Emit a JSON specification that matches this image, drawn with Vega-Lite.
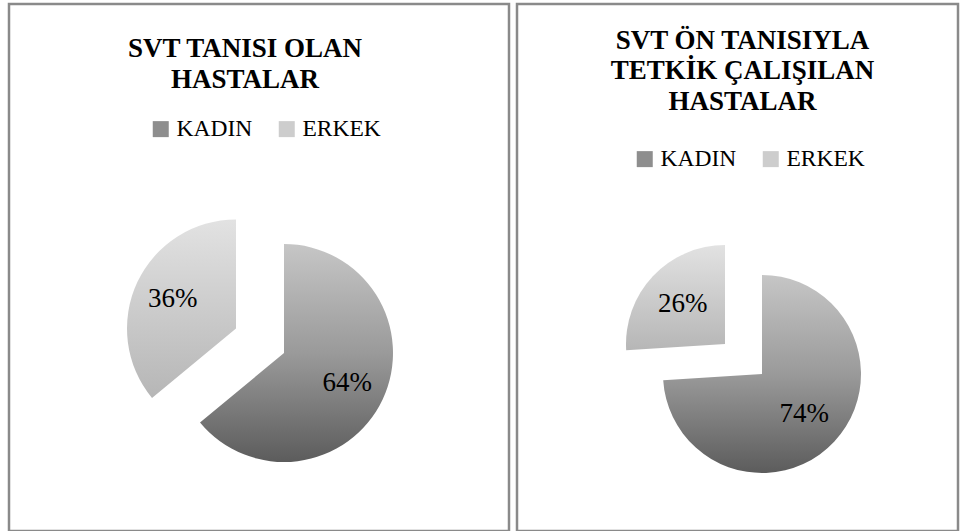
{
  "$schema": "https://vega.github.io/schema/vega-lite/v6.json",
  "background": "white",
  "padding": {"left": 7, "top": 2, "right": 2, "bottom": 2},
  "spacing": 4,
  "config": {
    "view": {"stroke": "#8a8a8a", "strokeWidth": 2.5},
    "legend": {
      "orient": "none",
      "direction": "horizontal",
      "title": null,
      "padding": 0,
      "symbolType": "square",
      "symbolSize": 256,
      "symbolStrokeWidth": 0,
      "labelFont": "Liberation Serif",
      "labelFontSize": 23.5,
      "labelColor": "black",
      "labelOffset": 4,
      "columnPadding": 22
    },
    "title": {
      "font": "Liberation Serif",
      "fontSize": 27,
      "fontWeight": "bold",
      "color": "black",
      "lineHeight": 30.5,
      "anchor": "middle",
      "frame": "group",
      "baseline": "alphabetic"
    }
  },
  "resolve": {
    "scale": {"color": "independent", "theta": "independent"},
    "legend": {"color": "independent"}
  },
  "hconcat": [
    {
      "width": 500,
      "height": 527,
      "view": {"stroke": "#8a8a8a", "strokeWidth": 2.5},
      "title": {"text": ["SVT TANISI OLAN", "HASTALAR"], "offset": -89.5, "dx": -14},
      "data": {"values": [
        {"cinsiyet": "KADIN", "oran": 0.64},
        {"cinsiyet": "ERKEK", "oran": 0.36}
      ]},
      "encoding": {
        "theta": {"field": "oran", "type": "quantitative", "stack": true},
        "order": {"field": "cinsiyet", "sort": "descending"},
        "detail": {"field": "cinsiyet"}
      },
      "layer": [
        {
          "mark": {"type": "arc", "outerRadius": 0, "strokeWidth": 0},
          "encoding": {
            "color": {
              "field": "cinsiyet", "type": "nominal",
              "scale": {"domain": ["KADIN", "ERKEK"], "range": ["#8e8e8e", "#cdcdcd"]},
              "legend": {"legendX": 140, "legendY": 113}
            }
          }
        },
        {
          "mark": {"type": "arc", "outerRadius": 109, "xOffset": 25, "yOffset": 85.5, "strokeWidth": 0,
            "fill": {"gradient": "linear", "x1": 0, "y1": 0, "x2": 0, "y2": 1, "stops": [{"offset": 0, "color": "#c6c6c6"}, {"offset": 0.5, "color": "#9a9a9a"}, {"offset": 1, "color": "#5c5c5c"}]}},
          "encoding": {
            "opacity": {"condition": {"test": "datum.cinsiyet === 'KADIN'", "value": 1}, "value": 0}
          }
        },
        {
          "mark": {"type": "arc", "outerRadius": 109, "xOffset": -23, "yOffset": 61, "strokeWidth": 0,
            "fill": {"gradient": "linear", "x1": 0, "y1": 0, "x2": 0, "y2": 1, "stops": [{"offset": 0, "color": "#e2e2e2"}, {"offset": 1, "color": "#b6b6b6"}]}},
          "encoding": {
            "opacity": {"condition": {"test": "datum.cinsiyet === 'ERKEK'", "value": 1}, "value": 0}
          }
        },
        {
          "mark": {"type": "text", "radius": 70, "xOffset": 25, "yOffset": 85.5, "font": "Liberation Serif", "fontSize": 27, "color": "black"},
          "encoding": {
            "text": {"field": "oran", "type": "quantitative", "format": ".0%"},
            "opacity": {"condition": {"test": "datum.cinsiyet === 'KADIN'", "value": 1}, "value": 0}
          }
        },
        {
          "mark": {"type": "text", "radius": 70, "xOffset": -23, "yOffset": 61, "font": "Liberation Serif", "fontSize": 27, "color": "black"},
          "encoding": {
            "text": {"field": "oran", "type": "quantitative", "format": ".0%"},
            "opacity": {"condition": {"test": "datum.cinsiyet === 'ERKEK'", "value": 1}, "value": 0}
          }
        }
      ]
    },
    {
      "width": 441,
      "height": 527,
      "view": {"stroke": "#8a8a8a", "strokeWidth": 2.5},
      "title": {"text": ["SVT ÖN TANISIYLA", "TETKİK ÇALIŞILAN", "HASTALAR"], "offset": -111.5, "dx": 5},
      "data": {"values": [
        {"cinsiyet": "KADIN", "oran": 0.74},
        {"cinsiyet": "ERKEK", "oran": 0.26}
      ]},
      "encoding": {
        "theta": {"field": "oran", "type": "quantitative", "stack": true},
        "order": {"field": "cinsiyet", "sort": "descending"},
        "detail": {"field": "cinsiyet"}
      },
      "layer": [
        {
          "mark": {"type": "arc", "outerRadius": 0, "strokeWidth": 0},
          "encoding": {
            "color": {
              "field": "cinsiyet", "type": "nominal",
              "scale": {"domain": ["KADIN", "ERKEK"], "range": ["#8e8e8e", "#cdcdcd"]},
              "legend": {"legendX": 116, "legendY": 143}
            }
          }
        },
        {
          "mark": {"type": "arc", "outerRadius": 99, "xOffset": 24.5, "yOffset": 106.5, "strokeWidth": 0,
            "fill": {"gradient": "linear", "x1": 0, "y1": 0, "x2": 0, "y2": 1, "stops": [{"offset": 0, "color": "#c6c6c6"}, {"offset": 0.5, "color": "#9a9a9a"}, {"offset": 1, "color": "#5c5c5c"}]}},
          "encoding": {
            "opacity": {"condition": {"test": "datum.cinsiyet === 'KADIN'", "value": 1}, "value": 0}
          }
        },
        {
          "mark": {"type": "arc", "outerRadius": 99, "xOffset": -12.5, "yOffset": 76.5, "strokeWidth": 0,
            "fill": {"gradient": "linear", "x1": 0, "y1": 0, "x2": 0, "y2": 1, "stops": [{"offset": 0, "color": "#e2e2e2"}, {"offset": 1, "color": "#b6b6b6"}]}},
          "encoding": {
            "opacity": {"condition": {"test": "datum.cinsiyet === 'ERKEK'", "value": 1}, "value": 0}
          }
        },
        {
          "mark": {"type": "text", "radius": 58, "xOffset": 24.5, "yOffset": 106.5, "font": "Liberation Serif", "fontSize": 27, "color": "black"},
          "encoding": {
            "text": {"field": "oran", "type": "quantitative", "format": ".0%"},
            "opacity": {"condition": {"test": "datum.cinsiyet === 'KADIN'", "value": 1}, "value": 0}
          }
        },
        {
          "mark": {"type": "text", "radius": 58, "xOffset": -12.5, "yOffset": 76.5, "font": "Liberation Serif", "fontSize": 27, "color": "black"},
          "encoding": {
            "text": {"field": "oran", "type": "quantitative", "format": ".0%"},
            "opacity": {"condition": {"test": "datum.cinsiyet === 'ERKEK'", "value": 1}, "value": 0}
          }
        }
      ]
    }
  ]
}
